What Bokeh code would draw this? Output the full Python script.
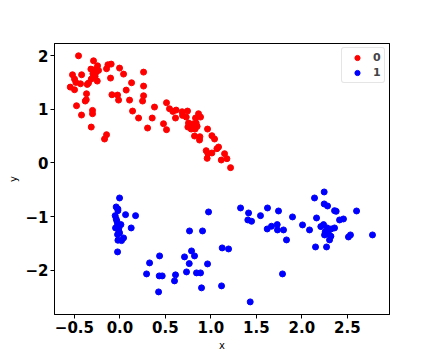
from bokeh.plotting import figure
from bokeh.models import Range1d, FixedTicker, Legend, LegendItem, LinearAxis
from bokeh.embed import file_html
from bokeh.resources import INLINE

# class 0 (red)
x0 = [-0.455, -0.290, -0.246, -0.319, -0.279, -0.235, -0.264, -0.297, -0.521, -0.421,
      -0.272, -0.499, -0.315, -0.249, -0.484, -0.433, -0.345, -0.359, -0.546, -0.499,
      -0.367, -0.370, -0.381, -0.477, -0.301, -0.301, -0.422, -0.315, -0.147, -0.169,
      -0.132, -0.096, -0.147, -0.004, 0.040, -0.103, 0.260, 0.128, 0.260, 0.069,
      -0.088, -0.026, -0.015, 0.106, 0.260, 0.249, 0.139, 0.205, 0.380, 0.355, 0.304,
      0.512, 0.545, 0.582, 0.618, 0.611, 0.479, 0.512, 0.684, 0.688, 0.743, 0.729,
      0.864, 0.886, 0.831, 0.754, 0.769, 0.798, 0.838, 0.783, 0.827, 0.849, 0.747,
      0.820, 0.879, 0.875, 0.963, 1.011, 1.040, 0.948, 0.967, 1.011, 1.066, 1.084,
      0.959, 1.150, 1.176, 1.114, 1.216]
y0 = [1.996, 1.903, 1.810, 1.748, 1.736, 1.724, 1.686, 1.662, 1.643, 1.643,
      1.612, 1.562, 1.562, 1.525, 1.500, 1.475, 1.488, 1.463, 1.413, 1.364,
      1.289, 1.178, 1.153, 1.066, 0.979, 0.917, 0.893, 0.669, 0.527, 0.446,
      1.829, 1.841, 1.755, 1.767, 1.655, 1.581, 1.692, 1.494, 1.432, 1.357,
      1.270, 1.265, 1.171, 1.171, 1.252, 1.153, 0.967, 0.837, 1.041, 0.837, 0.651,
      1.122, 1.010, 0.960, 0.985, 0.837, 0.731, 0.620, 0.954, 0.886, 0.967, 0.855,
      0.917, 0.855, 0.837, 0.744, 0.694, 0.725, 0.744, 0.632, 0.632, 0.682, 0.669,
      0.502, 0.489, 0.427, 0.632, 0.508, 0.446, 0.229, 0.173, 0.186, 0.266, 0.297,
      0.086, 0.173, 0.080, 0.055, -0.087]

# class 1 (blue)
x1 = [-0.004, -0.041, -0.022, -0.022, 0.062, 0.172, -0.052, -0.041, -0.033, 0.011,
      -0.026, -0.048, -0.011, 0.124, -0.011, -0.004, -0.026, 0.040, -0.022, 0.018,
      -0.026, 0.974, 0.765, 0.908, 1.326, 1.414, 1.406, 1.124, 1.194, 0.787, 0.710,
      0.820, 0.436, 0.326, 0.762, 0.963, 0.293, 0.432, 0.465, 0.611, 0.732, 0.842,
      0.886, 0.600, 0.897, 1.117, 0.425,
      1.447, 1.432, 1.622, 1.545, 1.743, 1.619, 1.666, 1.729, 1.732, 1.798, 1.831,
      1.787, 1.897, 2.007, 2.084, 2.139, 2.245, 2.245, 2.282, 2.161, 2.208, 2.238,
      2.278, 2.322, 2.359, 2.359, 2.377, 2.414, 2.457, 2.601, 2.256, 2.289, 2.249,
      2.319, 2.304, 2.267, 2.150, 2.271, 2.512, 2.534, 2.776]
y1 = [-0.652, -0.819, -0.857, -0.888, -0.962, -0.981, -0.981, -1.043, -1.086, -1.148,
      -1.148, -1.210, -1.210, -1.210, -1.272, -1.303, -1.334, -1.396, -1.439, -1.446,
      -1.656, -0.912, -1.266, -1.266, -0.838, -0.931, -1.061, -1.582, -1.601, -1.638, -1.749,
      -1.731, -1.731, -1.861, -1.874, -1.880, -2.066, -2.103, -2.103, -2.084, -2.029, -2.047,
      -2.047, -2.196, -2.326, -2.289, -2.401,
      -1.086, -2.587, -0.838, -0.981, -0.894, -1.229, -1.179, -1.148, -1.247, -1.247, -1.433,
      -2.066, -1.005, -1.154, -1.247, -0.652, -0.540, -0.763, -0.801, -1.024, -1.185, -1.148,
      -1.210, -1.229, -1.210, -0.888, -0.900, -1.061, -1.043, -0.894, -1.284, -1.303, -1.340,
      -1.365, -1.433, -1.322, -1.564, -1.564, -1.378, -1.340, -1.340]

x_ticks = [-0.5, 0.0, 0.5, 1.0, 1.5, 2.0, 2.5]
x_tick_labels = ["\u22120.5", "0.0", "0.5", "1.0", "1.5", "2.0", "2.5"]
y_ticks = [-2, -1, 0, 1, 2]
y_tick_labels = ["\u22122", "\u22121", "0", "1", "2"]
series_labels = ["0", "1"]

p = figure(output_backend="svg", toolbar_location=None,
           frame_width=335, frame_height=271,
           min_border_left=54, min_border_top=43, min_border_right=35, min_border_bottom=30,
           x_range=Range1d(-0.719, 2.963), y_range=Range1d(-2.822, 2.225))
p.background_fill_color = "white"
p.border_fill_color = "white"
p.outline_line_color = "black"
p.outline_line_width = 1
p.xgrid.visible = False
p.ygrid.visible = False

r0 = p.scatter(x0, y0, size=6, color="#ff0000", marker="circle")
r1 = p.scatter(x1, y1, size=6, color="#0000ff", marker="circle")

for ax, ticks, labels, name in [(p.xaxis[0], x_ticks, x_tick_labels, "x"),
                                (p.yaxis[0], y_ticks, y_tick_labels, "y")]:
    ax.ticker = FixedTicker(ticks=ticks)
    ax.major_label_overrides = {t: l for t, l in zip(ticks, labels)}
    ax.major_label_text_font = "DejaVu Sans"
    ax.major_label_text_font_style = "bold"
    ax.major_label_text_font_size = "15px"
    ax.major_label_text_color = "black"
    ax.axis_label = name
    ax.axis_label_text_font = "DejaVu Sans"
    ax.axis_label_text_font_style = "normal"
    ax.axis_label_text_font_size = "10px"
    ax.axis_label_text_color = "black"
    ax.minor_tick_line_color = None
    ax.major_tick_in = 0
    ax.major_tick_out = 4
    ax.major_tick_line_color = "black"
    ax.axis_line_color = "black"
    ax.axis_line_width = 1
    ax.major_label_standoff = 2

p.xaxis[0].axis_label_standoff = 4
p.yaxis[0].axis_label_standoff = 3

# frame lines on the top and right sides
for side in ["right", "above"]:
    a = LinearAxis(ticker=FixedTicker(ticks=[]), major_label_text_font_size="0px",
                   axis_line_color="black", axis_line_width=1,
                   major_tick_line_color=None, minor_tick_line_color=None)
    p.add_layout(a, side)

legend = Legend(items=[LegendItem(label=series_labels[0], renderers=[r0]),
                       LegendItem(label=series_labels[1], renderers=[r1])],
                location="top_right")
legend.margin = 4
legend.padding = 3
legend.spacing = 2
legend.glyph_width = 24
legend.glyph_height = 13
legend.label_standoff = 4
legend.label_width = 8
legend.label_text_font = "DejaVu Sans"
legend.label_text_font_style = "bold"
legend.label_text_font_size = "11px"
legend.label_height = 13
legend.border_line_color = "#cccccc"
legend.border_line_width = 1
legend.border_radius = 3
legend.background_fill_alpha = 0.8
p.add_layout(legend)

open("out.html", "w").write(file_html(p, INLINE))
